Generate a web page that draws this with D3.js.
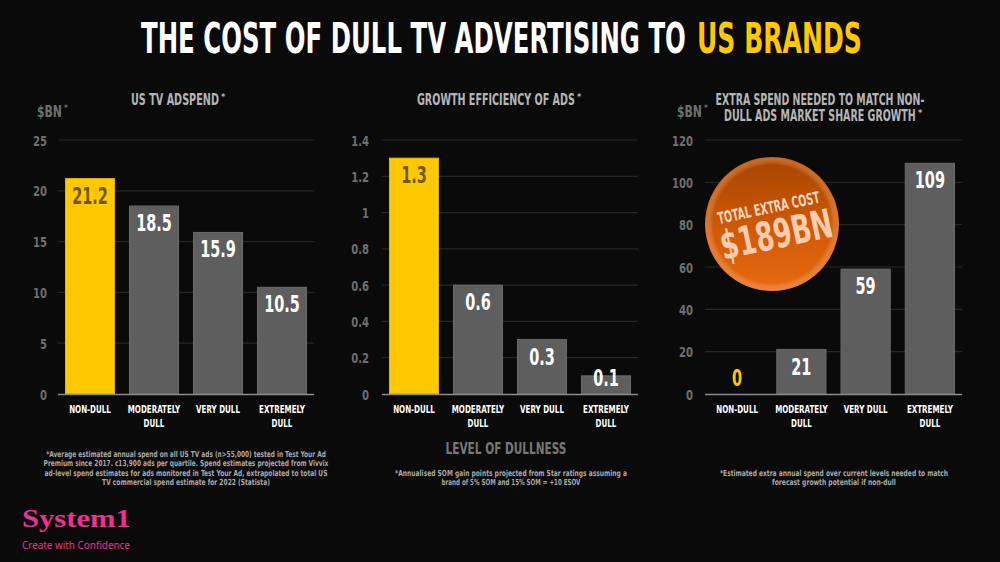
<!DOCTYPE html>
<html><head><meta charset="utf-8">
<script src="https://cdnjs.cloudflare.com/ajax/libs/d3/7.8.5/d3.min.js"></script>
<style>
html,body{margin:0;padding:0;background:#0a0a0a;}
svg{display:block;}
</style></head>
<body>
<svg id="c" width="1000" height="562"></svg>
<script>
// ---- data ----
const categories = ["NON-DULL", "MODERATELY DULL", "VERY DULL", "EXTREMELY DULL"];
const categoryLines = [["NON-DULL"], ["MODERATELY", "DULL"], ["VERY DULL"], ["EXTREMELY", "DULL"]];
const adspend = [21.2, 18.5, 15.9, 10.5];
const efficiency = [1.3, 0.6, 0.3, 0.1];
const extraSpend = [0, 21, 59, 109];
const adspendTicks = [0, 5, 10, 15, 20, 25];
const efficiencyTicks = [0, 0.2, 0.4, 0.6, 0.8, 1, 1.2, 1.4];
const extraTicks = [0, 20, 40, 60, 80, 100, 120];
const totalExtra = "$189BN";

const FONT = "'DejaVu Sans Condensed','Liberation Sans',sans-serif";
const YELLOW = "#ffc800", GRAY = "#5e5e5e";

const svg = d3.select("#c");
svg.append("rect").attr("width", 1000).attr("height", 562).attr("fill", "#0a0a0a");

// horizontally squeeze a text element (already positioned by x,y) via transform
function squeeze(node, sx) {
  const sel = d3.select(node);
  const x = +sel.attr("x"), y = +sel.attr("y");
  sel.attr("x", 0).attr("y", 0).attr("transform", `translate(${x},${y}) scale(${sx},1)`);
}
function fit(sel, w) {
  sel.each(function () { squeeze(this, w / this.getComputedTextLength()); });
  return sel;
}
function condense(sel, f) {
  sel.each(function () { squeeze(this, f); });
  return sel;
}
function txt(parent, x, y, s, size, fill, anchor) {
  return parent.append("text").attr("x", x).attr("y", y).attr("text-anchor", anchor || "middle")
    .attr("font-family", FONT).attr("font-weight", "bold").attr("font-size", size).attr("fill", fill).text(s);
}

// ---- title ----
fit(txt(svg, 141, 53, "THE COST OF DULL TV ADVERTISING TO", 42, "#fff", "start"), 545);
fit(txt(svg, 697, 53, "US BRANDS", 42, YELLOW, "start"), 165);

// ---- panels ----
function panel(opt) {
  const g = svg.append("g");
  const x = d3.scaleBand().domain(categories).range(opt.xr).paddingInner(0.234).paddingOuter(0.117);
  const y = d3.scaleLinear().domain([0, opt.max]).range([394, 140]);

  // gridlines
  g.selectAll("line.grid").data(opt.ticks.filter(t => t > 0)).join("line")
    .attr("x1", opt.xr[0]).attr("x2", opt.xr[1])
    .attr("y1", d => y(d)).attr("y2", d => y(d))
    .attr("stroke", "#262626").attr("stroke-width", 1.2);

  // y axis labels
  const yAxis = d3.axisLeft(y).tickValues(opt.ticks).tickSize(0).tickPadding(0)
    .tickFormat(d => d3.format("~g")(d));
  const ya = g.append("g").attr("transform", `translate(${opt.labelX},0)`).call(yAxis);
  ya.select(".domain").remove();
  ya.selectAll("text").attr("font-family", FONT).attr("font-weight", "bold")
    .attr("font-size", 14).attr("fill", "#6f6f6f").attr("dy", "0.36em")
    .attr("transform", "scale(0.8,1)");

  // bars
  g.selectAll("rect.bar").data(opt.values).join("rect")
    .attr("x", (d, i) => x(categories[i]))
    .attr("width", x.bandwidth())
    .attr("y", d => y(d))
    .attr("height", d => 394 - y(d))
    .attr("fill", (d, i) => i === 0 ? YELLOW : GRAY)
    .attr("stroke", (d, i) => i === 0 ? "#e0b000" : "#6a6a6a")
    .attr("stroke-width", d => d > 0 ? 1 : 0);

  // baseline
  g.append("line").attr("x1", opt.xr[0]).attr("x2", opt.xr[1]).attr("y1", 394.5).attr("y2", 394.5)
    .attr("stroke", "#8a8a8a").attr("stroke-width", 1.5);

  // value labels
  const vl = g.selectAll("text.val").data(opt.values).join("text")
    .attr("x", (d, i) => x(categories[i]) + x.bandwidth() / 2)
    .attr("y", d => Math.min(y(d) + 25, 386))
    .attr("text-anchor", "middle")
    .attr("font-family", FONT).attr("font-weight", "bold").attr("font-size", 23)
    .attr("fill", (d, i) => i === 0 ? (d > 0 ? "#6e5b00" : YELLOW) : "#fff")
    .text(d => opt.fmt(d));
  condense(vl, 0.7);

  // category labels
  categoryLines.forEach((lines, i) => {
    lines.forEach((l, j) => {
      const t = txt(g, x(categories[i]) + x.bandwidth() / 2, 413 + j * 13.5, l, 11, "#fff");
      condense(t, 0.72);
    });
  });

  // panel title
  opt.title.forEach((line, j) => {
    const yy = 105 + j * 15.5;
    fit(txt(g, opt.titleX - line.w / 2, yy, line.text, 16, "#b5b5b5", "start"), line.w);
    if (line.star) txt(g, opt.titleX + line.w / 2 + 2, yy - 5, "*", 9, "#b5b5b5", "start");
  });

  if (opt.unitX != null) {
    fit(txt(g, opt.unitX, 117, "$BN", 15, "#6f6f6f", "start"), 25);
    txt(g, opt.unitX + 27, 111, "*", 8, "#6f6f6f", "start");
  }
  return {x, y, g};
}

panel({xr: [58, 314], max: 25, ticks: adspendTicks, values: adspend, labelX: 47,
  fmt: d3.format(".1f"), titleX: 175, unitX: 37,
  title: [{text: "US TV ADSPEND", star: true, w: 88}]});

panel({xr: [382, 638], max: 1.4, ticks: efficiencyTicks, values: efficiency, labelX: 369,
  fmt: d3.format(".1f"), titleX: 496, unitX: null,
  title: [{text: "GROWTH EFFICIENCY OF ADS", star: true, w: 158}]});

panel({xr: [705, 962], max: 120, ticks: extraTicks, values: extraSpend, labelX: 693,
  fmt: d3.format("d"), titleX: 820, unitX: 677,
  title: [{text: "EXTRA SPEND NEEDED TO MATCH NON-", star: false, w: 209},
          {text: "DULL ADS MARKET SHARE GROWTH", star: true, w: 192}]});

// ---- badge ----
const defs = svg.append("defs");
const rg = defs.append("linearGradient").attr("id", "badge").attr("x1", 0).attr("y1", 0).attr("x2", 0).attr("y2", 1);
rg.append("stop").attr("offset", "0%").attr("stop-color", "#a84400");
rg.append("stop").attr("offset", "55%").attr("stop-color", "#d05a08");
rg.append("stop").attr("offset", "100%").attr("stop-color", "#e86a10");
const hl = defs.append("radialGradient").attr("id", "hl").attr("cx", 0.5).attr("cy", 0.5).attr("r", 0.5);
hl.append("stop").attr("offset", "88%").attr("stop-color", "#fff").attr("stop-opacity", 0);
hl.append("stop").attr("offset", "97%").attr("stop-color", "#ffb070").attr("stop-opacity", 0.35);
hl.append("stop").attr("offset", "100%").attr("stop-color", "#fff").attr("stop-opacity", 0.1);

const badge = svg.append("g").attr("transform", "translate(772,224)");
badge.append("circle").attr("r", 67).attr("fill", "url(#badge)");
badge.append("circle").attr("r", 67).attr("fill", "url(#hl)");
const bt = badge.append("g").attr("transform", "rotate(-12)");
fit(bt.append("text").attr("x", 0).attr("y", -11).attr("text-anchor", "middle")
  .attr("font-family", FONT).attr("font-weight", "bold").attr("font-size", 16).attr("fill", "#ffd6bc")
  .text("TOTAL EXTRA COST"), 104);
fit(bt.append("text").attr("x", 2).attr("y", 25).attr("text-anchor", "middle")
  .attr("font-family", FONT).attr("font-weight", "bold").attr("font-size", 40).attr("fill", "#ffcdae")
  .text(totalExtra), 114);

// ---- axis title ----
fit(txt(svg, 506, 454, "LEVEL OF DULLNESS", 16, "#777"), 121);

// ---- footnotes ----
function note(lines, cx, y0, lh) {
  lines.forEach((l, i) => fit(txt(svg, cx, y0 + i * lh, l[0], 8.3, "#a8a8a8"), l[1]));
}
note([["*Average estimated annual spend on all US TV ads (n>55,000) tested in Test Your Ad", 280],
      ["Premium since 2017. c13,900 ads per quartile. Spend estimates projected from Vivvix", 285],
      ["ad-level spend estimates for ads monitored in Test Your Ad, extrapolated to total US", 283],
      ["TV commercial spend estimate for 2022 (Statista)", 168]], 186, 457, 9.3);
note([["*Annualised SOM gain points projected from Star ratings assuming a", 232],
      ["brand of 5% SOM and 15% SOM = +10 ESOV", 139]], 511, 476, 9.3);
note([["*Estimated extra annual spend over current levels needed to match", 228],
      ["forecast growth potential if non-dull", 124]], 834, 476, 9.3);

// ---- logo ----
fit(svg.append("text").attr("x", 22).attr("y", 527)
  .attr("font-family", "'Liberation Serif','DejaVu Serif',serif").attr("font-weight", "bold")
  .attr("font-size", 26).attr("fill", "#f0308f").text("System1"), 109);
fit(svg.append("text").attr("x", 22).attr("y", 549)
  .attr("font-family", "'Noto Sans','Open Sans',sans-serif").attr("font-size", 11.5).attr("fill", "#f0308f")
  .text("Create with Confidence"), 108);
</script>
</body></html>
